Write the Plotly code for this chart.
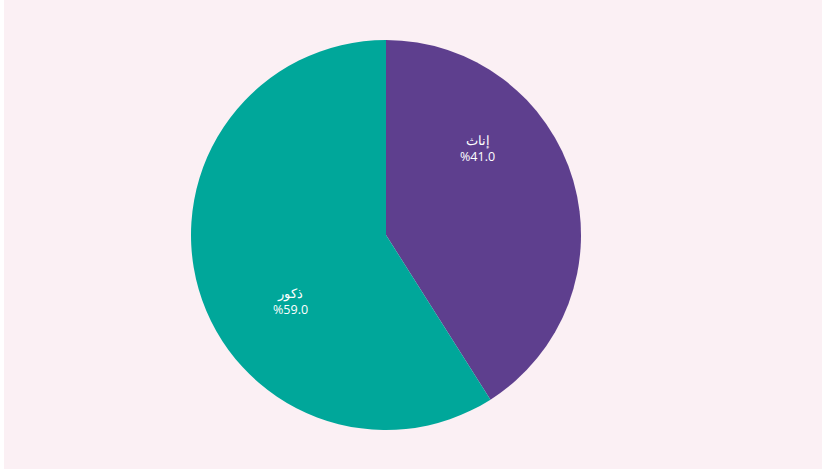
import plotly.graph_objects as go

labels = ["إناث", "ذكور"]
values = [41.0, 59.0]
colors = ["#5e3f8e", "#00a79a"]
# label anchor points (paper fractions)
label_pos = [(0.5815, 0.7228), (0.3528, 0.3582)]

BG = "#fbf0f4"

fig = go.Figure(
    go.Pie(
        labels=labels,
        values=values,
        sort=False,
        direction="clockwise",
        rotation=0,
        marker=dict(colors=colors, line=dict(width=0)),
        textinfo="none",
        hoverinfo="skip",
        showlegend=False,
        domain=dict(x=[0, 772 / 822], y=[39 / 469, 1 - 40 / 469]),
    )
)

for lab, val, (x, y) in zip(labels, values, label_pos):
    fig.add_annotation(
        x=x, y=y, xref="paper", yref="paper",
        text=f"{lab}<br>%{val:.1f}",
        showarrow=False,
        font=dict(color="#ffffff", size=12.5, family="Open Sans"),
    )

fig.update_layout(
    width=822,
    height=469,
    paper_bgcolor=BG,
    plot_bgcolor=BG,
    margin=dict(l=0, r=0, t=0, b=0),
    font=dict(family="Open Sans"),
    shapes=[
        dict(type="rect", xref="paper", yref="paper", x0=0, x1=4 / 822, y0=0, y1=1,
             fillcolor="white", line=dict(width=0), layer="below"),
    ],
)

fig.write_html("out.html", config={"displayModeBar": False},
               post_script="document.body.style.margin='0';")
